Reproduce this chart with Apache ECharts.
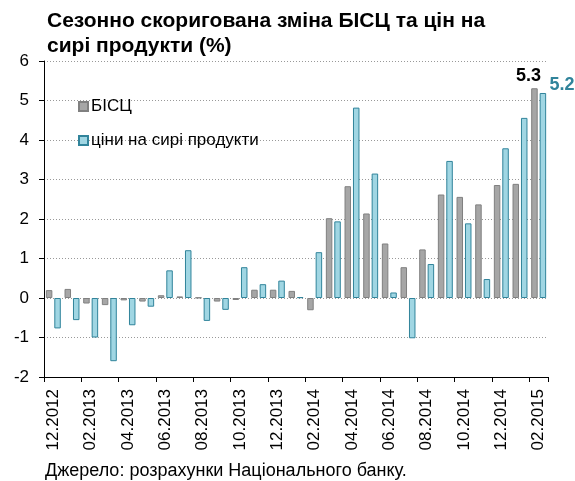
<!DOCTYPE html>
<html><head><meta charset="utf-8">
<script src="https://cdn.jsdelivr.net/npm/echarts@6/dist/echarts.min.js"></script>
<style>html,body{margin:0;padding:0;background:#fff}#c{width:575px;height:481px}</style>
</head><body><div id="c"></div>
<script>
const categories = ['12.2012','01.2013','02.2013','03.2013','04.2013','05.2013','06.2013','07.2013','08.2013','09.2013','10.2013','11.2013','12.2013','01.2014','02.2014','03.2014','04.2014','05.2014','06.2014','07.2014','08.2014','09.2014','10.2014','11.2014','12.2014','01.2015','02.2015'];
const bisc = [0.20,0.23,-0.14,-0.18,-0.06,-0.09,0.07,0.04,0.01,-0.09,-0.05,0.21,0.21,0.18,-0.31,2.02,2.83,2.14,1.38,0.78,1.23,2.62,2.56,2.37,2.86,2.89,5.31];
const raw = [-0.77,-0.56,-1.0,-1.6,-0.69,-0.22,0.70,1.21,-0.58,-0.30,0.78,0.35,0.44,0.02,1.16,1.94,4.82,3.15,0.14,-1.02,0.86,3.47,1.89,0.48,3.79,4.56,5.19];
const seriesNames = ['БІСЦ','ціни на сирі продукти'];
const titleText = 'Сезонно скоригована зміна БІСЦ та цін на\nсирі продукти (%)';
const sourceText = 'Джерело: розрахунки Національного банку.';
const lastLabels = ['5.3','5.2'];

const font = 'Liberation Sans, Arial, sans-serif';
const chart = echarts.init(document.getElementById('c'));
const n = categories.length;
const biscData = bisc.map((v,i)=> i===n-1 ? {value:v,label:{show:true,position:'top',formatter:lastLabels[0],offset:[-6,2],color:'#000',fontWeight:'bold',fontSize:18,fontFamily:font}} : v);
const rawData = raw.map((v,i)=> i===n-1 ? {value:v,label:{show:true,position:'top',formatter:lastLabels[1],offset:[19,6],color:'#31849B',fontWeight:'bold',fontSize:18,fontFamily:font}} : v);
chart.setOption({
  animation:false,
  textStyle:{fontFamily:font},
  title:[{text:titleText,left:42,top:4,textStyle:{fontSize:21,fontWeight:'bold',color:'#000',lineHeight:25,fontFamily:font}},
         {text:sourceText,left:40,top:457,textStyle:{fontSize:18,fontWeight:'normal',color:'#000',fontFamily:font}}],
  legend:{orient:'vertical',left:73,top:93,itemWidth:9,itemHeight:9,itemGap:17,icon:'rect',
    textStyle:{fontSize:17,color:'#000',fontFamily:font,padding:[0,0,0,-2]},
    data:seriesNames},
  grid:{left:44,right:27,top:61,bottom:104},
  xAxis:[{type:'category',data:categories,position:'bottom',axisLine:{show:false},axisTick:{show:false},
    axisLabel:{rotate:90,interval:1,fontSize:17,color:'#000',margin:12,fontFamily:font}},
    {type:'category',data:categories,position:'bottom',axisLine:{onZero:true,lineStyle:{color:'#000',width:1}},
    axisTick:{show:true,interval:1,length:5,lineStyle:{color:'#000'}},axisLabel:{show:false}}],
  yAxis:{type:'value',min:-2,max:6,interval:1,
    axisLine:{show:true,lineStyle:{color:'#000'}},axisTick:{show:true,length:5,lineStyle:{color:'#000'}},
    axisLabel:{fontSize:17,color:'#000',margin:15,fontFamily:font},
    splitLine:{show:true,lineStyle:{color:'#999',type:[1,2],width:1}}},
  series:[
    {name:seriesNames[0],type:'bar',data:biscData,barWidth:6.5,barGap:'30%',xAxisIndex:0,
      itemStyle:{color:'#A6A6A6',borderColor:'#808080',borderWidth:1}},
    {name:seriesNames[1],type:'bar',data:rawData,barWidth:6.5,barGap:'30%',xAxisIndex:0,
      itemStyle:{color:'#A0D6E3',borderColor:'#31849B',borderWidth:1}}
  ]
});
</script></body></html>
